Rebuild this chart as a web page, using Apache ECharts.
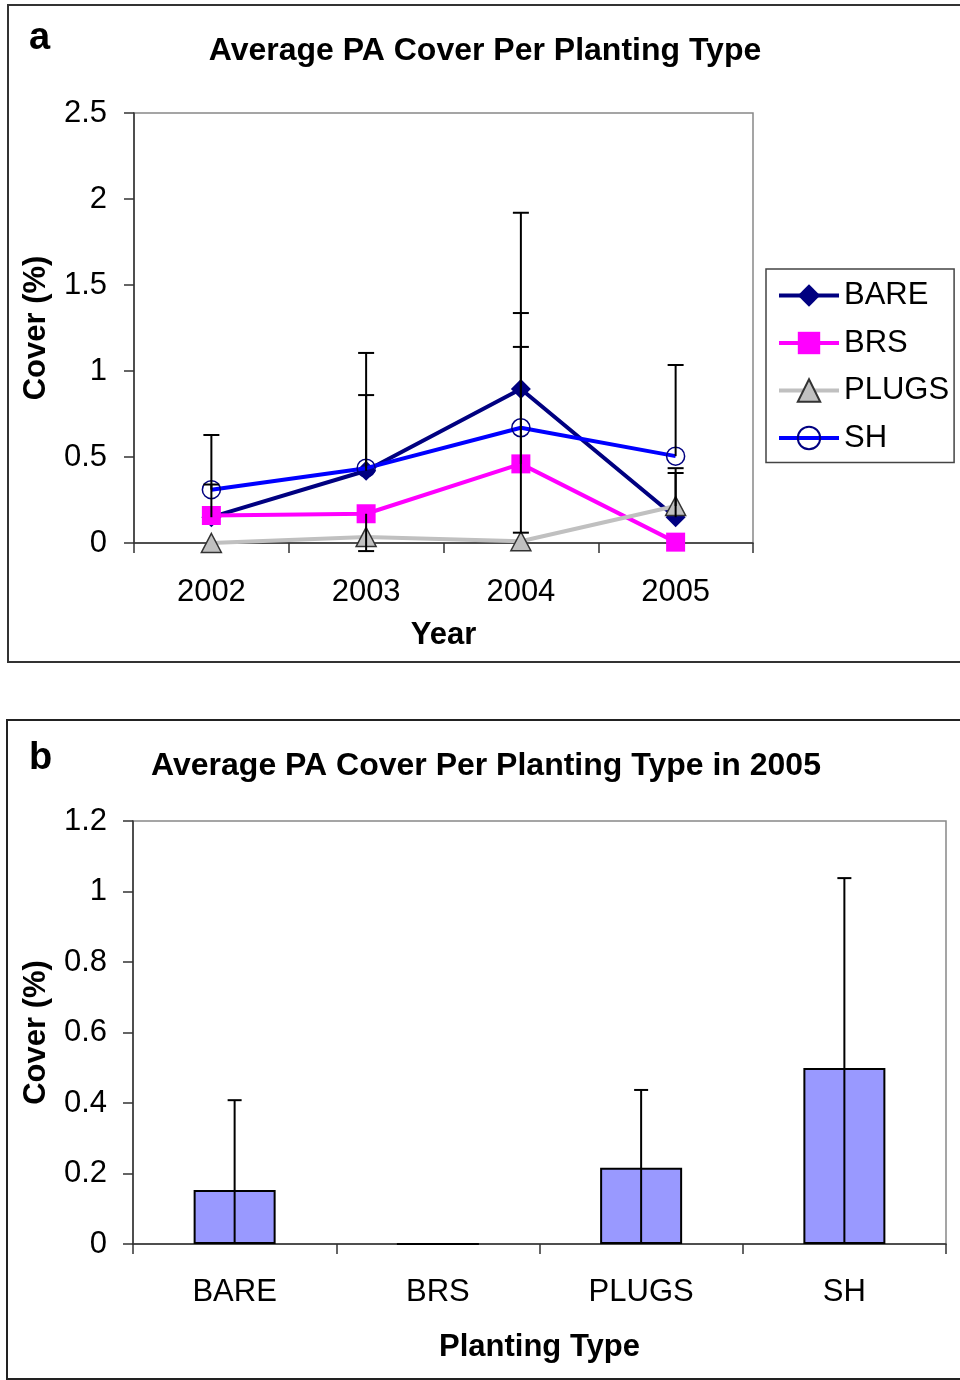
<!DOCTYPE html>
<html><head><meta charset="utf-8">
<script src="https://cdn.jsdelivr.net/npm/echarts@6/dist/echarts.min.js"></script>
<style>html,body{margin:0;padding:0;background:#fff}#c{width:960px;height:1380px}</style>
</head><body><div id="c"></div>
<script>
// ---- Panel a data ----
const years = ['2002', '2003', '2004', '2005'];
const bare = [0.15, 0.42, 0.895, 0.15];
const brs = [0.16, 0.17, 0.46, 0.005];
const plugs = [0.0, 0.035, 0.01, 0.215];
const sh = [0.31, 0.435, 0.67, 0.505];
const bareErrUp = [0.19, 0.685, 1.025, 0.257];
const bareErrDown = [0, 0, 0, 0];
const brsErrUp = [0, 0, 0.68, 0];
const brsErrDown = [0, 0.217, 0, 0];
const plugsErrUp = [0, 0, 0, 0.22];
const plugsErrDown = [0, 0, 0, 0];
const shErrUp = [0.318, 0.425, 0.667, 0.53];
const shErrDown = [0, 0, 0.61, 0];

// ---- Panel b data ----
const plantingTypes = ['BARE', 'BRS', 'PLUGS', 'SH'];
const cover2005 = [0.153, 0, 0.216, 0.499];
const err2005 = [0.255, 0, 0.221, 0.539];

const FONT = '"Liberation Sans", Arial, sans-serif';
const FS = 31;

function errRows(vals, up, dn) { return vals.map((v, i) => [i, v, up[i], dn[i]]); }

function errItem(params, api) {
  const i = api.value(0), v = api.value(1), up = api.value(2), dn = api.value(3);
  const mid = api.coord([i, v]);
  const st = { stroke: '#000', lineWidth: 2 };
  const ch = [];
  const hw = 8;
  if (up > 0) {
    const t = api.coord([i, v + up]);
    ch.push({ type: 'line', shape: { x1: t[0], y1: t[1], x2: mid[0], y2: mid[1] }, style: st });
    ch.push({ type: 'line', shape: { x1: t[0] - hw, y1: t[1], x2: t[0] + hw, y2: t[1] }, style: st });
  }
  if (dn > 0) {
    const b = api.coord([i, v - dn]);
    ch.push({ type: 'line', shape: { x1: b[0], y1: b[1], x2: mid[0], y2: mid[1] }, style: st });
    ch.push({ type: 'line', shape: { x1: b[0] - hw, y1: b[1], x2: b[0] + hw, y2: b[1] }, style: st });
  }
  return { type: 'group', children: ch };
}

function barErrItem(params, api) {
  const i = api.value(0), v = api.value(1), e = api.value(2);
  const t = api.coord([i, v + e]);
  const b = api.coord([i, Math.max(0, v - e)]);
  const st = { stroke: '#000', lineWidth: 2 };
  const hw = 7;
  return { type: 'group', children: [
    { type: 'line', shape: { x1: t[0], y1: t[1], x2: b[0], y2: b[1] }, style: st },
    { type: 'line', shape: { x1: t[0] - hw, y1: t[1], x2: t[0] + hw, y2: t[1] }, style: st }
  ] };
}

const chart = echarts.init(document.getElementById('c'), null, { renderer: 'canvas' });

const axisLine = { show: true, lineStyle: { color: '#333', width: 1.5 } };
const axisTick = { show: true, length: 10, lineStyle: { color: '#333', width: 1.5 } };
const lblStyle = { color: '#000', fontFamily: FONT, fontSize: FS };
const nameStyle = { color: '#000', fontFamily: FONT, fontSize: FS, fontWeight: 'bold' };
const titleStyle = { fontFamily: FONT, fontSize: 32, fontWeight: 'bold', color: '#000' };

const option = {
  animation: false,
  backgroundColor: '#fff',
  textStyle: { fontFamily: FONT },
  title: [
    { text: 'Average PA Cover Per Planting Type', left: 480, top: 30, textAlign: 'center', textStyle: titleStyle },
    { text: 'Average PA Cover Per Planting Type in 2005', left: 481, top: 745, textAlign: 'center', textStyle: titleStyle }
  ],
  graphic: [
    { type: 'rect', shape: { x: 8, y: 5, width: 965, height: 657 }, style: { fill: 'none', stroke: '#333', lineWidth: 2 }, silent: true },
    { type: 'rect', shape: { x: 7, y: 720, width: 965, height: 659 }, style: { fill: 'none', stroke: '#222', lineWidth: 2 }, silent: true },
    { type: 'text', x: 29, y: 39, style: { text: 'a', font: 'bold 38px ' + FONT, fill: '#000', verticalAlign: 'middle' } },
    { type: 'text', x: 29, y: 759, style: { text: 'b', font: 'bold 38px ' + FONT, fill: '#000', verticalAlign: 'middle' } }
  ],
  legend: {
    data: ['BARE', 'BRS', 'PLUGS', 'SH'],
    orient: 'vertical',
    left: 766, top: 269,
    padding: [11, 5, 9, 11],
    itemGap: 16.5,
    itemWidth: 60, itemHeight: 28,
    borderColor: '#444', borderWidth: 1.5,
    lineStyle: { width: 4 },
    textStyle: { fontFamily: FONT, fontSize: FS, color: '#000' }
  },
  grid: [
    { left: 134, top: 113, width: 619, height: 430, show: true, borderColor: '#888', borderWidth: 1.5, backgroundColor: 'transparent' },
    { left: 133, top: 821, width: 813, height: 423, show: true, borderColor: '#888', borderWidth: 1.5, backgroundColor: 'transparent' }
  ],
  xAxis: [
    { type: 'category', gridIndex: 0, data: years, boundaryGap: true,
      axisLine: axisLine, axisTick: axisTick, axisLabel: Object.assign({ margin: 34 }, lblStyle),
      name: 'Year', nameLocation: 'middle', nameGap: 77, nameTextStyle: nameStyle },
    { type: 'category', gridIndex: 1, data: plantingTypes, boundaryGap: true,
      axisLine: axisLine, axisTick: axisTick, axisLabel: Object.assign({ margin: 33 }, lblStyle),
      name: 'Planting Type', nameLocation: 'middle', nameGap: 88, nameTextStyle: nameStyle }
  ],
  yAxis: [
    { type: 'value', gridIndex: 0, min: 0, max: 2.5, interval: 0.5,
      axisLine: axisLine, axisTick: axisTick, splitLine: { show: false },
      axisLabel: Object.assign({ margin: 27 }, lblStyle),
      name: 'Cover (%)', nameLocation: 'middle', nameGap: 82, nameTextStyle: nameStyle },
    { type: 'value', gridIndex: 1, min: 0, max: 1.2, interval: 0.2,
      axisLine: axisLine, axisTick: axisTick, splitLine: { show: false },
      axisLabel: Object.assign({ margin: 26 }, lblStyle),
      name: 'Cover (%)', nameLocation: 'middle', nameGap: 81, nameTextStyle: nameStyle }
  ],
  series: [
    { name: 'BARE', type: 'line', xAxisIndex: 0, yAxisIndex: 0, data: bare, z: 2,
      symbol: 'diamond', symbolSize: 20,
      lineStyle: { color: '#000080', width: 4 }, itemStyle: { color: '#000080' } },
    { name: 'BRS', type: 'line', xAxisIndex: 0, yAxisIndex: 0, data: brs, z: 3,
      symbol: 'rect', symbolSize: 19,
      lineStyle: { color: '#FF00FF', width: 4 }, itemStyle: { color: '#FF00FF' } },
    { name: 'PLUGS', type: 'line', xAxisIndex: 0, yAxisIndex: 0, data: plugs, z: 4,
      symbol: 'triangle', symbolSize: [20, 19],
      lineStyle: { color: '#C0C0C0', width: 4 }, itemStyle: { color: '#C0C0C0', borderColor: '#333', borderWidth: 1.5 } },
    { name: 'SH', type: 'line', xAxisIndex: 0, yAxisIndex: 0, data: sh, z: 5,
      symbol: 'circle', symbolSize: 18,
      lineStyle: { color: '#0000FF', width: 4 }, itemStyle: { color: 'rgba(255,255,255,0)', borderColor: '#000080', borderWidth: 1.5 } },
    { type: 'custom', xAxisIndex: 0, yAxisIndex: 0, z: 10, renderItem: errItem, encode: { x: 0, y: 1 }, data: errRows(bare, bareErrUp, bareErrDown) },
    { type: 'custom', xAxisIndex: 0, yAxisIndex: 0, z: 10, renderItem: errItem, encode: { x: 0, y: 1 }, data: errRows(brs, brsErrUp, brsErrDown) },
    { type: 'custom', xAxisIndex: 0, yAxisIndex: 0, z: 10, renderItem: errItem, encode: { x: 0, y: 1 }, data: errRows(plugs, plugsErrUp, plugsErrDown) },
    { type: 'custom', xAxisIndex: 0, yAxisIndex: 0, z: 10, renderItem: errItem, encode: { x: 0, y: 1 }, data: errRows(sh, shErrUp, shErrDown) },
    { name: 'Cover 2005', type: 'bar', xAxisIndex: 1, yAxisIndex: 1, data: cover2005, barWidth: 82,
      itemStyle: { color: '#9999FF', borderColor: '#000', borderWidth: 2 } },
    { type: 'custom', xAxisIndex: 1, yAxisIndex: 1, z: 10, renderItem: barErrItem, encode: { x: 0, y: 1 },
      data: cover2005.map((v, i) => [i, v, err2005[i]]) }
  ]
};
chart.setOption(option);
</script></body></html>
